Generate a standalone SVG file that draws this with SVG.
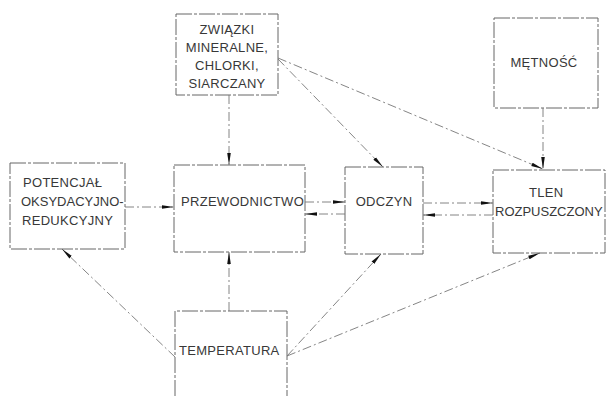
<svg xmlns="http://www.w3.org/2000/svg" width="607" height="396" viewBox="0 0 607 396">
<style>
.box{fill:none;stroke:#666;stroke-width:1;stroke-dasharray:16 2 3 2}
.t{font-family:"Liberation Sans",Arial,sans-serif;font-size:13px;fill:#383838;letter-spacing:0.3px}
.n{letter-spacing:0}
.c{fill:none;stroke:#777;stroke-width:0.9;stroke-dasharray:9 3 2 3}
</style>
<defs>
<marker id="ah" viewBox="0 0 12 5" refX="12" refY="2.5" markerWidth="12" markerHeight="5" markerUnits="userSpaceOnUse" orient="auto">
<path d="M0,0.7 L12,2.5 L0,4.3 z" fill="#111"/>
</marker>
</defs>
<rect width="607" height="396" fill="#fff"/>
<g id="n-zwiazki">
<rect class="box" x="176" y="14" width="102" height="81"/>
<text class="t" x="227" y="34" text-anchor="middle">ZWIĄZKI</text>
<text class="t" x="227" y="52" text-anchor="middle">MINERALNE,</text>
<text class="t" x="227" y="70" text-anchor="middle">CHLORKI,</text>
<text class="t" x="227" y="88" text-anchor="middle">SIARCZANY</text>
</g>
<g id="n-metnosc">
<rect class="box" x="494" y="18" width="104" height="90"/>
<text class="t" x="544" y="67" text-anchor="middle">MĘTNOŚĆ</text>
</g>
<g id="n-potencjal">
<rect class="box" x="10" y="163" width="115" height="86"/>
<text class="t" x="23" y="187">POTENCJAŁ</text>
<text class="t n" x="21" y="206">OKSYDACYJNO-</text>
<text class="t" x="22" y="225">REDUKCYJNY</text>
</g>
<g id="n-przewodnictwo">
<rect class="box" x="174" y="165" width="131" height="87"/>
<text class="t" x="181" y="206">PRZEWODNICTWO</text>
</g>
<g id="n-odczyn">
<rect class="box" x="345" y="167" width="78" height="87"/>
<text class="t" x="384" y="206" text-anchor="middle">ODCZYN</text>
</g>
<g id="n-tlen">
<rect class="box" x="493" y="170" width="112" height="83"/>
<text class="t" x="529" y="197">TLEN</text>
<text class="t n" x="495" y="216">ROZPUSZCZONY</text>
</g>
<g id="n-temperatura">
<path class="box" d="M175,396 L175,311 L287,311 L287,396"/>
<text class="t" x="179" y="355">TEMPERATURA</text>
</g>
<g id="connectors">
<line class="c" x1="229" y1="95" x2="229" y2="165" marker-end="url(#ah)"/>
<line class="c" x1="278" y1="59" x2="383" y2="167" marker-end="url(#ah)"/>
<line class="c" x1="278" y1="58" x2="543" y2="169" marker-end="url(#ah)"/>
<line class="c" x1="543" y1="108" x2="543" y2="169" marker-end="url(#ah)"/>
<line class="c" x1="125" y1="207" x2="174" y2="207" marker-end="url(#ah)"/>
<line class="c" x1="305" y1="202" x2="345" y2="202" marker-end="url(#ah)"/>
<line class="c" x1="345" y1="214" x2="305" y2="214" marker-end="url(#ah)"/>
<line class="c" x1="423" y1="203" x2="493" y2="203" marker-end="url(#ah)"/>
<line class="c" x1="493" y1="215" x2="423" y2="215" marker-end="url(#ah)"/>
<line class="c" x1="229" y1="311" x2="229" y2="252" marker-end="url(#ah)"/>
<line class="c" x1="175" y1="357" x2="62" y2="249" marker-end="url(#ah)"/>
<line class="c" x1="287" y1="356" x2="381" y2="254" marker-end="url(#ah)"/>
<line class="c" x1="287" y1="356" x2="540" y2="253" marker-end="url(#ah)"/>
</g>
</svg>
